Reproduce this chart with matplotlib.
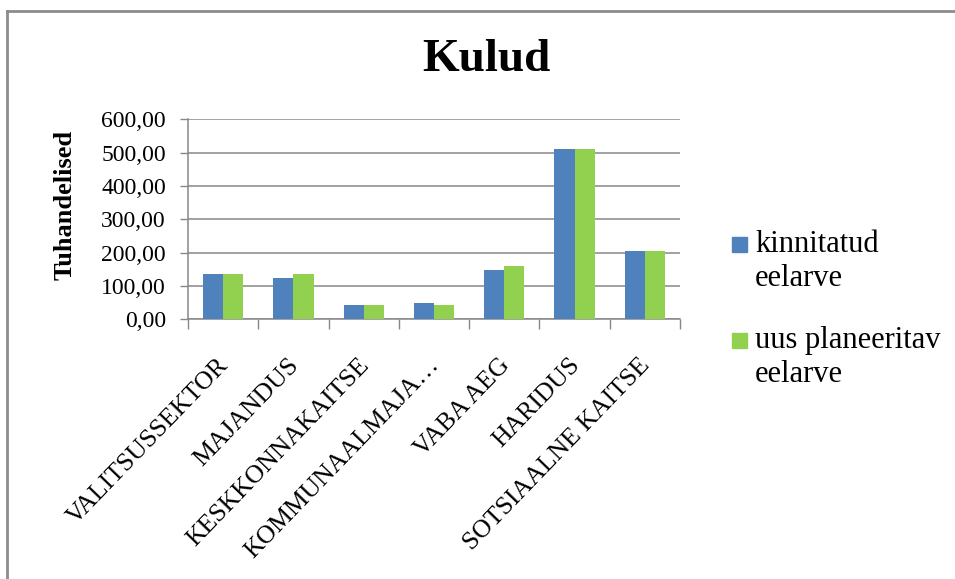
import matplotlib
matplotlib.use("Agg")
import matplotlib.pyplot as plt
import numpy as np
from matplotlib.patches import Rectangle
from matplotlib.lines import Line2D
from matplotlib.ticker import FuncFormatter
from matplotlib.transforms import ScaledTranslation

categories = ["VALITSUSSEKTOR", "MAJANDUS", "KESKKONNAKAITSE", "KOMMUNAALMAJA…",
              "VABA AEG", "HARIDUS", "SOTSIAALNE KAITSE"]
kinnitatud = [136, 124, 43, 49, 148, 511, 205]
uus_planeeritav = [136, 136, 43, 43, 160, 511, 205]
series_names = ["kinnitatud\neelarve", "uus planeeritav\neelarve"]
title = "Kulud"
ylabel = "Tuhandelised"

blue = "#4F81BD"
green = "#92D050"
grid_c = "#888888"
SERIF = ['Liberation Serif', 'DejaVu Serif']

plt.rcParams['font.family'] = SERIF

W, H = 955, 579
fig = plt.figure(figsize=(W / 100, H / 100), dpi=100)
fig.patch.set_facecolor("white")

# outer chart border (top & left visible)
fig.add_artist(Line2D([7 / W, 7 / W], [0, 1 - 11 / H], transform=fig.transFigure,
                      color="#8c8c8c", lw=2))
fig.add_artist(Line2D([7 / W, 1], [1 - 11 / H, 1 - 11 / H], transform=fig.transFigure,
                      color="#8c8c8c", lw=2))

left, right, top, bottom = 188, 680, 119.3, 319.3
ax = fig.add_axes([left / W, 1 - bottom / H, (right - left) / W, (bottom - top) / H])

x = np.arange(len(categories))
bw = 1 / 3.5
ax.bar(x - bw / 2, kinnitatud, width=bw, color=blue, zorder=3)
ax.bar(x + bw / 2, uus_planeeritav, width=bw, color=green, zorder=3)

ax.set_xlim(-0.5, len(categories) - 0.5)
ax.set_ylim(0, 600)
ax.set_yticks(np.arange(0, 601, 100))
ax.yaxis.set_major_formatter(FuncFormatter(lambda v, p: f"{v:.2f}".replace(".", ",")))
ax.grid(axis="y", color=grid_c, lw=1.1, zorder=0)

for s in ["top", "right"]:
    ax.spines[s].set_visible(False)
for s in ["left", "bottom"]:
    ax.spines[s].set_color(grid_c)
    ax.spines[s].set_linewidth(1.1)

ax.tick_params(axis="y", direction="out", length=6, width=1, color=grid_c,
               pad=10, labelsize=17)
ax.set_xticks(x)
ax.set_xticklabels(categories, rotation=46, ha="right", va="top",
                   rotation_mode="anchor", fontsize=18.5, family=SERIF)
ax.tick_params(axis="x", length=0, pad=25)
shift = ScaledTranslation(-6 / 100, 0, fig.dpi_scale_trans)
for lbl in ax.get_xticklabels():
    lbl.set_transform(lbl.get_transform() + shift)
ax.set_xticks(np.arange(-0.5, len(categories), 1), minor=True)
ax.tick_params(axis="x", which="minor", direction="out", length=7, width=1, color=grid_c)

fig.text(486 / W, 1 - 60 / H, title, ha="center", va="center", fontsize=34,
         fontweight="bold", family=SERIF)
fig.text(65 / W, 1 - 205 / H, ylabel, ha="center", va="center", rotation=90,
         fontsize=19, fontweight="bold", family=SERIF)

# legend
for i, (name, col) in enumerate(zip(series_names, [blue, green])):
    y0 = 237 + i * 96
    fig.add_artist(Rectangle((732 / W, 1 - (y0 + 15) / H), 15 / W, 15 / H,
                             transform=fig.transFigure, color=col))
    fig.text(755 / W, 1 - (y0 - 7) / H, name, ha="left", va="top", fontsize=22,
             linespacing=1.25, family=SERIF)

fig.savefig("out.png", dpi=100)
